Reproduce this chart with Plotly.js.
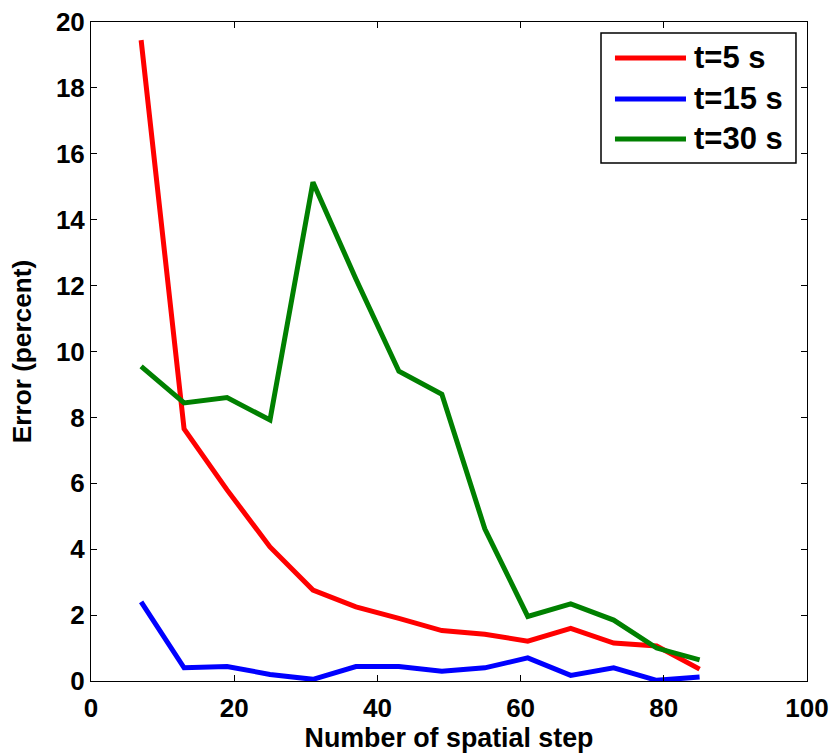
<!DOCTYPE html>
<html>
<head>
<meta charset="utf-8">
<script src="https://cdn.plot.ly/plotly-3.0.1.min.js"></script>
<style>html,body{margin:0;padding:0;background:#fff;}#chart{width:831px;height:753px;}</style>
</head>
<body>
<div id="chart"></div>
<script>
const steps = [7, 13, 19, 25, 31, 37, 43, 49, 55, 61, 67, 73, 79, 85];
const err5 = [19.45, 7.65, 5.8, 4.07, 2.76, 2.25, 1.9, 1.53, 1.42, 1.21, 1.6, 1.15, 1.06, 0.36];
const err15 = [2.4, 0.4, 0.44, 0.2, 0.05, 0.44, 0.44, 0.3, 0.4, 0.7, 0.17, 0.4, 0.02, 0.12];
const err30 = [9.55, 8.44, 8.6, 7.92, 15.14, 12.2, 9.4, 8.7, 4.62, 1.96, 2.34, 1.85, 1.0, 0.64];
const seriesNames = ['t=5 s', 't=15 s', 't=30 s'];
const seriesColors = ['#ff0000', '#0000ff', '#008000'];
const xTitle = 'Number of spatial step';
const yTitle = 'Error (percent)';

const fam = 'Liberation Sans, Arial, sans-serif';
const mk = (y, i) => ({
  x: steps, y: y, name: seriesNames[i], type: 'scatter', mode: 'lines',
  line: {color: seriesColors[i], width: 5}, showlegend: false
});
const data = [mk(err5, 0), mk(err15, 1), mk(err30, 2)];

// Custom legend (box, sample lines, labels) in paper coordinates
const legBox = {x0: 0.7123, x1: 0.9846, y0: 0.786, y1: 0.9833};
const legRows = [0.9454, 0.8832, 0.8225];
const shapes = [{
  type: 'rect', xref: 'paper', yref: 'paper',
  x0: legBox.x0, x1: legBox.x1, y0: legBox.y0, y1: legBox.y1,
  line: {color: '#000', width: 1.5}, fillcolor: '#fff', layer: 'above'
}];
const annotations = [];
seriesNames.forEach((n, i) => {
  shapes.push({type: 'line', xref: 'paper', yref: 'paper',
    x0: 0.7318, x1: 0.831, y0: legRows[i], y1: legRows[i],
    line: {color: seriesColors[i], width: 5}, layer: 'above'});
  annotations.push({xref: 'paper', yref: 'paper', x: 0.8394, y: legRows[i],
    xanchor: 'left', yanchor: 'middle', showarrow: false, text: n,
    font: {family: fam, size: 31, color: '#000', weight: 'bold'}});
});

const axisCommon = {
  showline: true, linecolor: '#000', linewidth: 1, mirror: 'ticks',
  ticks: 'inside', ticklen: 6, tickcolor: '#000', showgrid: false, zeroline: false,
  tickfont: {family: fam, size: 26, color: '#000', weight: 'bold'}
};
const layout = {
  width: 831, height: 753,
  paper_bgcolor: '#fff', plot_bgcolor: '#fff',
  margin: {l: 91, r: 24, t: 22, b: 72},
  xaxis: Object.assign({}, axisCommon, {
    range: [0, 100], tickvals: [0, 20, 40, 60, 80, 100], ticklabelstandoff: 4,
    title: {text: xTitle, font: {family: fam, size: 26.8, color: '#000', weight: 'bold'}, standoff: 2}
  }),
  yaxis: Object.assign({}, axisCommon, {
    range: [0, 20], tickvals: [0, 2, 4, 6, 8, 10, 12, 14, 16, 18, 20],
    title: {text: yTitle, font: {family: fam, size: 26.2, color: '#000', weight: 'bold'}, standoff: 16}
  }),
  shapes: shapes,
  annotations: annotations,
  showlegend: false
};
Plotly.newPlot('chart', data, layout, {displayModeBar: false, staticPlot: true});
</script>
</body>
</html>
